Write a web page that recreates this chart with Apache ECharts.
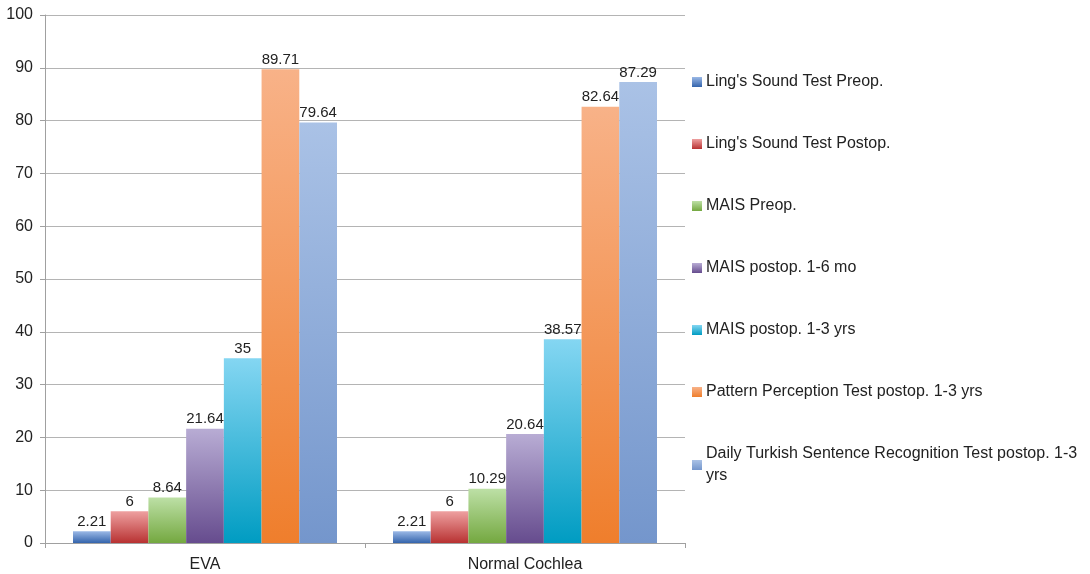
<!DOCTYPE html>
<html><head><meta charset="utf-8">
<script src="https://cdn.jsdelivr.net/npm/echarts@6/dist/echarts.min.js"></script>
<style>html,body{margin:0;padding:0;background:#fff}#c{width:1090px;height:574px}</style>
</head><body><div id="c"></div>
<script>
const categories = ["EVA", "Normal Cochlea"];
const seriesNames = [
  "Ling's Sound Test Preop.",
  "Ling's Sound Test Postop.",
  "MAIS Preop.",
  "MAIS postop. 1-6 mo",
  "MAIS postop. 1-3 yrs",
  "Pattern Perception Test postop. 1-3 yrs",
  "Daily Turkish Sentence Recognition Test postop. 1-3 yrs"
];
const lingPreop = [2.21, 2.21];
const lingPostop = [6, 6];
const maisPreop = [8.64, 10.29];
const maisPostop16mo = [21.64, 20.64];
const maisPostop13yrs = [35, 38.57];
const patternPerception = [89.71, 82.64];
const dailyTurkish = [79.64, 87.29];
const yTicks = {min: 0, max: 100, interval: 10};

const values = [lingPreop, lingPostop, maisPreop, maisPostop16mo, maisPostop13yrs, patternPerception, dailyTurkish];
const grads = [
  ['#9ab8e6', '#3464ac'],
  ['#eea0a0', '#b83232'],
  ['#bde0a6', '#74a840'],
  ['#b8acd4', '#664c8e'],
  ['#84d6f2', '#009cc2'],
  ['#f8b288', '#ef7e2c'],
  ['#aac2e6', '#7496cc']
];
const font = 'Liberation Sans, Arial, Helvetica, sans-serif';
const chart = echarts.init(document.getElementById('c'));
chart.setOption({
  animation: false,
  textStyle: {fontFamily: font},
  grid: {left: 45, right: 405, top: 15, bottom: 31},
  legend: {
    orient: 'vertical', left: 687, top: 66,
    itemWidth: 10, itemHeight: 10, itemGap: 40,
    icon: 'rect',
    textStyle: {fontSize: 16, color: '#222', fontFamily: font, lineHeight: 22, padding: [0, 0, 0, -1]},
    formatter: function (n) {
      return n === seriesNames[6] ? 'Daily Turkish Sentence Recognition Test postop. 1-3\nyrs' : n;
    },
    data: seriesNames
  },
  xAxis: {
    type: 'category', data: categories,
    axisLine: {lineStyle: {color: '#a0a0a0', width: 1}},
    axisTick: {show: true, length: 5, lineStyle: {color: '#a0a0a0'}},
    axisLabel: {fontSize: 16, color: '#222', margin: 14}
  },
  yAxis: {
    type: 'value', min: yTicks.min, max: yTicks.max, interval: yTicks.interval,
    axisLine: {show: true, lineStyle: {color: '#a0a0a0'}},
    axisTick: {show: true, length: 5, lineStyle: {color: '#a0a0a0'}},
    axisLabel: {fontSize: 16, color: '#222', margin: 12},
    splitLine: {lineStyle: {color: '#b4b4b4'}}
  },
  series: seriesNames.map((name, i) => ({
    name, type: 'bar', data: values[i],
    barGap: '0%', barCategoryGap: '17.5%',
    itemStyle: {color: new echarts.graphic.LinearGradient(0, 0, 0, 1, [
      {offset: 0, color: grads[i][0]}, {offset: 1, color: grads[i][1]}])},
    label: {show: true, position: 'top', distance: 2, fontSize: 15, color: '#222', fontFamily: font}
  }))
});
</script></body></html>
